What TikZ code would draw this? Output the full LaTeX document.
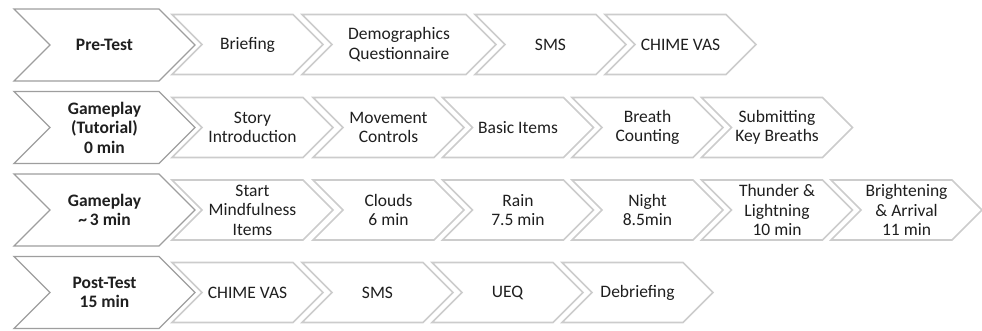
\documentclass[tikz,border=0pt]{standalone}
\usepackage{fontspec}
\setmainfont{Carlito}
\usepackage{tikz}

% chevron outline plus its centred label
% #1 style, #2 name, #3 left x, #4 centre y, #5 width, #6 half height, #7 text
\newcommand{\chevron}[7]{%
    \draw[#1] (#3,#4-#6) -- ++(#5-#6,0) -- ++(#6,#6) -- ++(-#6,#6)
        -- ++(-#5+#6,0) -- ++(#6,-#6) -- cycle;
    \node[step text] (#2) at (#3+#5/2,#4) {#7};
}

\begin{document}
\begin{tikzpicture}[
            x = 1pt, y = -1pt, % pixel grid, y going down
            line join = miter
        ]

        \tikzstyle{phase}=[
            draw = black!38,
            line width = 1.3pt,
            fill = white
        ]
        \tikzstyle{task}=[
            draw = black!20,
            line width = 1.6pt,
            fill = white
        ]
        \tikzstyle{step text}=[
            align = center,
            inner sep = 0pt,
            text = black!88,
            font = \fontsize{17.5}{19.5}\selectfont
        ]

        \useasboundingbox (0,0) rectangle (982,330);

        % phases
        \chevron{phase}{pre}{14}{45}{181}{36}{\textbf{Pre-Test}}
        \chevron{phase}{tut}{14}{127.5}{181}{36}{\textbf{Gameplay}\\\textbf{(Tutorial)}\\\textbf{0 min}}
        \chevron{phase}{game}{14}{210}{181}{36}{\textbf{Gameplay}\\\textbf{\textasciitilde\,3 min}}
        \chevron{phase}{post}{14}{292.5}{181}{36}{\textbf{Post-Test}\\\textbf{15 min}}

        % pre-test
        \chevron{task}{brief}{172}{44.5}{151}{30}{Briefing}
        \chevron{task}{demo}{302}{44.5}{194}{30}{Demographics\\Questionnaire}
        \chevron{task}{sms1}{475}{44.5}{151}{30}{SMS}
        \chevron{task}{vas1}{605}{44.5}{151}{30}{CHIME VAS}

        % tutorial
        \chevron{task}{story}{172}{127.5}{161}{30}{Story\\Introduction}
        \chevron{task}{move}{313}{127.5}{151}{30}{Movement\\Controls}
        \chevron{task}{items}{442.5}{127.5}{151}{30}{Basic Items}
        \chevron{task}{count}{572}{127.5}{151}{30}{Breath\\Counting}
        \chevron{task}{keys}{701.5}{127.5}{151}{30}{Submitting\\Key Breaths}

        % gameplay
        \chevron{task}{start}{172}{210}{161}{30}{Start\\Mindfulness\\Items}
        \chevron{task}{clouds}{313}{210}{151}{30}{Clouds\\6 min}
        \chevron{task}{rain}{442.5}{210}{151}{30}{Rain\\7.5 min}
        \chevron{task}{night}{572}{210}{151}{30}{Night\\8.5min}
        \chevron{task}{thunder}{701.5}{210}{151}{30}{Thunder \&\\Lightning\\10 min}
        \chevron{task}{arrive}{831}{210}{151}{30}{Brightening\\\& Arrival\\11 min}

        % post-test
        \chevron{task}{vas2}{172}{292.5}{151}{30}{CHIME VAS}
        \chevron{task}{sms2}{302}{292.5}{151}{30}{SMS}
        \chevron{task}{ueq}{432}{292.5}{151}{30}{UEQ}
        \chevron{task}{debrief}{562}{292.5}{151}{30}{Debriefing}

    \end{tikzpicture}
\end{document}
